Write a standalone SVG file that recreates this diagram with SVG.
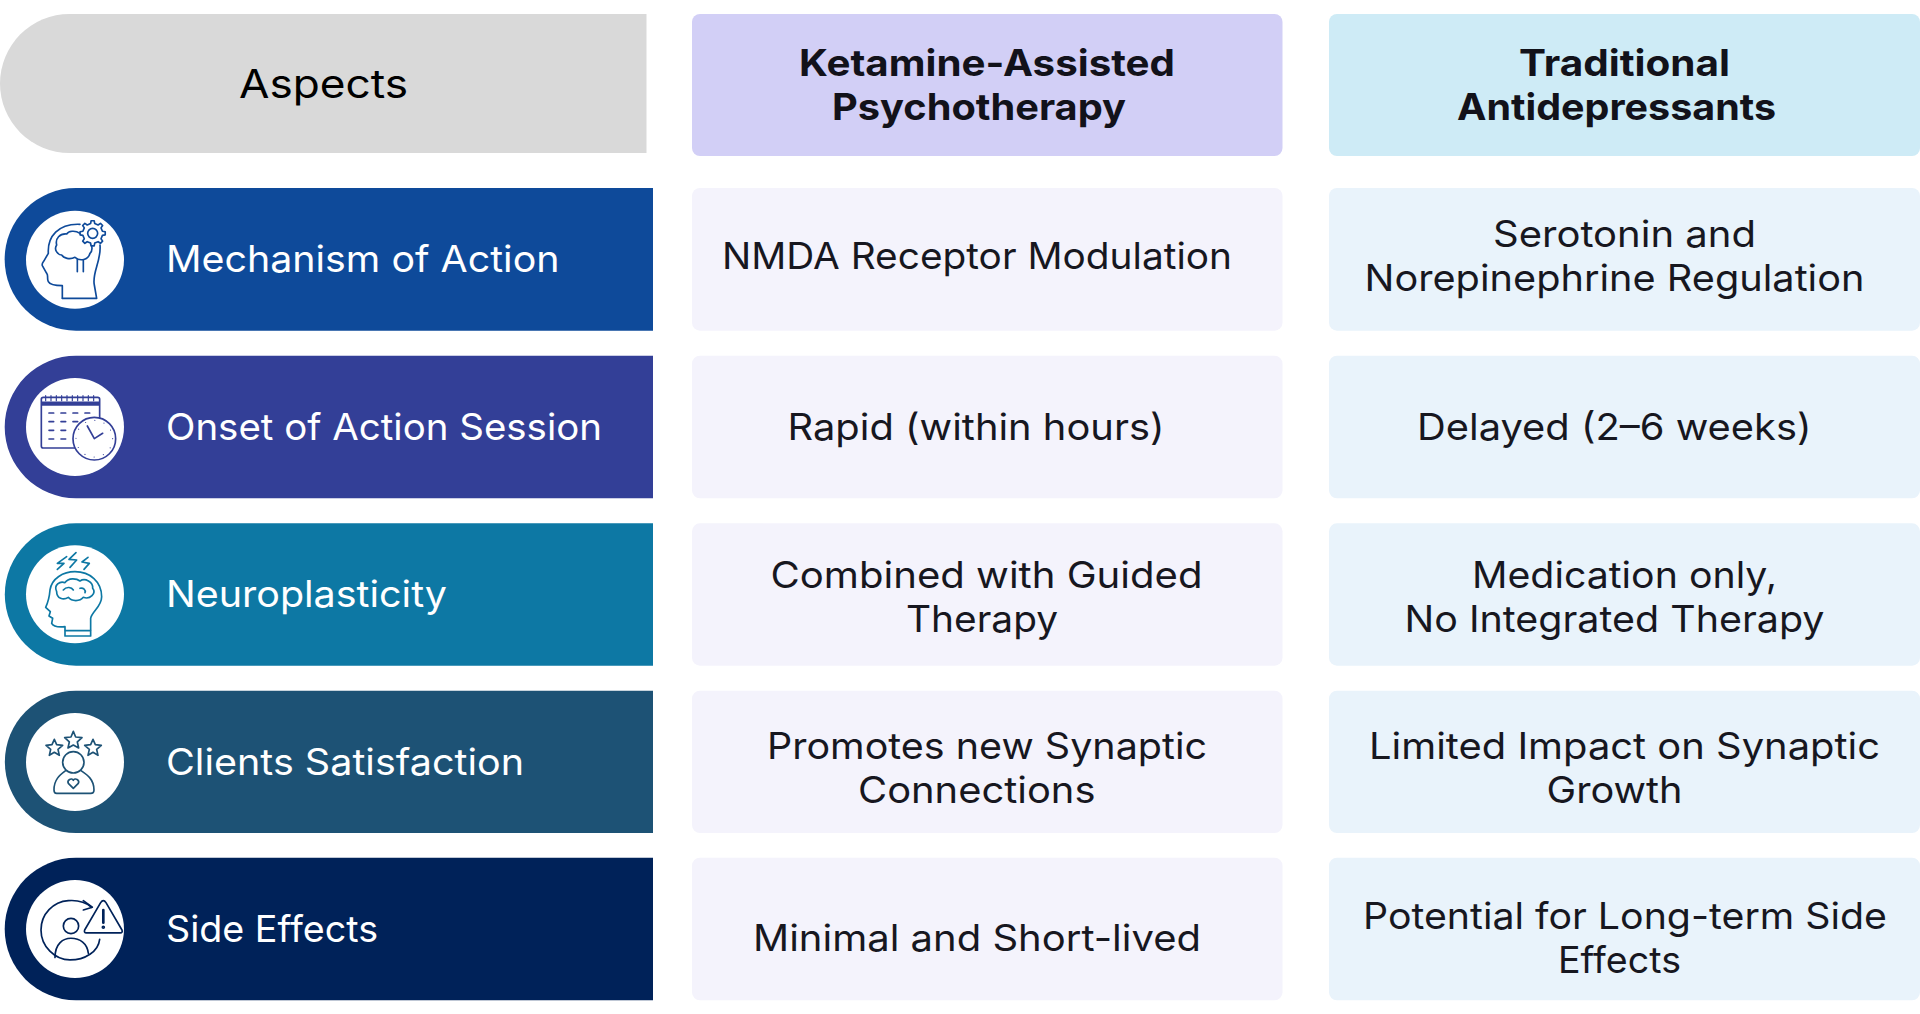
<svg xmlns="http://www.w3.org/2000/svg" width="1920" height="1014" viewBox="0 0 1920 1014">
<style>
text{font-family:"Inter","Noto Sans","Liberation Sans",sans-serif;font-size:37px;fill:#17171f;font-weight:400}
.asp{fill:#000;font-size:39px}
.lbl{fill:#fff}
.hd{font-weight:700;fill:#12121a}
.k{fill:#f4f3fc}.t{fill:#e9f3fb}
.disc{fill:#fff}
.ic{fill:none;stroke-width:5;stroke-linecap:round;stroke-linejoin:round}
.w{fill:#fff}
</style>
<rect width="1920" height="1014" fill="#fff"/>
<g id="head-aspects"><path d="M646.500 14V153H69.500A69.500 69.500 0 0 1 69.500 14Z" fill="#d9d9d9"/><text class="asp" x="239" y="98" textLength="169" lengthAdjust="spacingAndGlyphs">Aspects</text></g>
<g id="head-ketamine"><rect x="692" y="14" width="590.500" height="142" rx="8" fill="#d2cff6"/><text class="hd" x="799" y="76" textLength="376" lengthAdjust="spacingAndGlyphs">Ketamine-Assisted</text><text class="hd" x="832" y="120" textLength="294" lengthAdjust="spacingAndGlyphs">Psychotherapy</text></g>
<g id="head-traditional"><rect x="1329" y="14" width="591" height="142" rx="8" fill="#ceebf6"/><text class="hd" x="1519" y="76" textLength="211" lengthAdjust="spacingAndGlyphs">Traditional</text><text class="hd" x="1457" y="120" textLength="319" lengthAdjust="spacingAndGlyphs">Antidepressants</text></g>

<g id="row-mechanism">
<path d="M653 188V330.700H76A71.350 71.350 0 0 1 76 188Z" fill="#0e4a9a"/>
<circle class="disc" cx="75" cy="259.700" r="49"/>
<g transform="translate(0 170) scale(.3333)" class="ic" stroke="#0e4a9a">
<path d="M187 385V347C170 347 150 345 145 335C140 325 146 318 140 310L127 287C125 282 128 278 131 274L145 250C142 200 175 160 240 163"/><path d="M300 225C305 270 275 310 283 345L290 385H187"/>
<path d="M240 190C225 180 205 183 200 192C180 190 165 205 170 225C160 240 175 255 185 255C190 265 210 270 225 262C240 275 265 270 270 250C280 240 275 225 272 222"/>
<path d="M232 268V305M250 270V305"/>
<polygon class="w" transform="translate(278 190)" points="29.300,-6.200 37.700,-4.600 37.700,4.600 29.300,6.200 25.100,16.300 29.900,23.400 23.400,29.900 16.300,25.100 6.200,29.300 4.600,37.700 -4.600,37.700 -6.200,29.300 -16.300,25.100 -23.400,29.900 -29.900,23.400 -25.100,16.300 -29.300,6.200 -37.700,4.600 -37.700,-4.600 -29.300,-6.200 -25.100,-16.300 -29.900,-23.400 -23.400,-29.900 -16.300,-25.100 -6.200,-29.300 -4.600,-37.700 4.600,-37.700 6.200,-29.300 16.300,-25.100 23.400,-29.900 29.900,-23.400 25.100,-16.300"/>
<circle cx="278" cy="190" r="15"/>
</g>
<text class="lbl" x="166" y="271.500" textLength="393.500" lengthAdjust="spacingAndGlyphs">Mechanism of Action</text>
</g>

<g id="row-onset">
<path d="M653 355.700V498.300H76A71.300 71.300 0 0 1 76 355.700Z" fill="#333f97"/>
<circle class="disc" cx="75" cy="427" r="49"/>
<g transform="translate(0 170) scale(.3333)" class="ic" stroke="#333f97">
<rect x="124" y="682" width="175" height="152" rx="6"/>
<path d="M124 701H299" stroke-width="13" stroke-linecap="butt"/>
<path d="M137 677V692M153 677V692M169 677V692M185 677V692M201 677V692M217 677V692M233 677V692M249 677V692M265 677V692M281 677V692" stroke-width="3.500"/>
<path d="M147 729H161M183 729H197M219 729H233M255 729H269M147 755H161M183 755H197M219 755H233M147 781H161M183 781H197M147 807H161M183 807H197"/>
<circle cx="283" cy="806" r="64" class="w"/>
<path d="M283 806L262 768M283 806L308 790"/>
<circle cx="283" cy="806" r="55" stroke-width="3.500" stroke-dasharray="0 28.800"/>
</g>
<text class="lbl" x="166" y="440" textLength="436" lengthAdjust="spacingAndGlyphs">Onset of Action Session</text>
</g>

<g id="row-neuroplasticity">
<path d="M653 523.300V665.700H76A70 70 0 0 1 76 523.300Z" fill="#0d78a4"/>
<circle class="disc" cx="75" cy="594.300" r="49"/>
<g transform="translate(0 510) scale(.3333)" class="ic" stroke="#0d78a4">
<path d="M200 140L172 160L192 160L172 178M228 128L207 148L230 150L210 172M264 142L246 156L268 160L252 178"/>
<path d="M195 360V350C175 352 160 350 155 340L158 325L147 318L151 305L137 292C145 275 148 265 150 240C155 205 190 185 225 185C270 185 305 215 305 260C305 290 275 305 272 325V360"/>
<path d="M195 362H272V378H195Z"/>
<path d="M170 245C160 225 180 212 195 218C205 202 230 205 240 213C255 203 280 215 278 235C290 250 270 270 250 262C240 275 215 275 205 262C190 272 170 265 170 245Z"/>
<path d="M190 240C200 228 215 232 220 240M240 235C250 232 258 240 255 248"/>
</g>
<text class="lbl" x="166" y="607" textLength="281" lengthAdjust="spacingAndGlyphs">Neuroplasticity</text>
</g>

<g id="row-clients">
<path d="M653 690.700V833H76A70 70 0 0 1 76 690.700Z" fill="#1d5275"/>
<circle class="disc" cx="75" cy="762" r="49"/>
<g transform="translate(0 510) scale(.3333)" class="ic" stroke="#1d5275">
<path d="M220 664L227 681L246 683L232 696L236 714L220 705L204 714L208 696L194 683L213 681Z"/>
<path d="M163 688L170 704L188 706L174 718L178 736L163 727L148 736L152 718L138 706L156 704Z"/>
<path d="M279 688L286 704L304 706L290 718L294 736L279 727L264 736L268 718L254 706L272 704Z"/>
<circle cx="220" cy="757" r="32"/>
<path d="M197 782C180 795 162 808 162 840C162 846 165 850 170 850H272C278 850 282 846 282 840C282 808 262 795 243 782"/>
<path d="M220 835L205 820C200 810 215 802 220 811C225 802 240 810 235 820Z"/>
</g>
<text class="lbl" x="166" y="775" textLength="358" lengthAdjust="spacingAndGlyphs">Clients Satisfaction</text>
</g>

<g id="row-side-effects">
<path d="M653 857.700V1000.300H76A70 70 0 0 1 76 857.700Z" fill="#002259"/>
<circle class="disc" cx="75" cy="929" r="49"/>
<g transform="translate(0 510) scale(.3333)" class="ic" stroke="#002259">
<path d="M275 1192C255 1175 230 1170 205 1172C160 1175 123 1212 123 1260C123 1310 165 1350 210 1350C255 1350 295 1325 299 1288"/>
<path d="M250 1172L277 1192L250 1200"/>
<circle cx="213" cy="1248" r="23"/>
<path d="M165 1343C165 1300 190 1285 213 1285C240 1285 262 1300 265 1330"/>
<path d="M310 1172C313 1172 316 1175 318 1178L366 1260C368 1265 366 1269 361 1269H259C254 1269 252 1265 254 1260L302 1178C304 1175 307 1172 310 1172Z" class="w"/>
<path d="M310 1200V1238" stroke-width="8"/><circle cx="310" cy="1252" r="3" stroke-width="5"/>
</g>
<text class="lbl" x="166" y="941.500" textLength="212" lengthAdjust="spacingAndGlyphs">Side Effects</text>
</g>

<g id="cell-k1"><rect class="k" x="692" y="188" width="590.500" height="142.700" rx="8"/><text x="722" y="268.700" textLength="510" lengthAdjust="spacingAndGlyphs">NMDA Receptor Modulation</text></g>
<g id="cell-k2"><rect class="k" x="692" y="355.700" width="590.500" height="142.600" rx="8"/><text x="787.500" y="439.500" textLength="377" lengthAdjust="spacingAndGlyphs">Rapid (within hours)</text></g>
<g id="cell-k3"><rect class="k" x="692" y="523.300" width="590.500" height="142.400" rx="8"/><text x="770.500" y="587.700" textLength="432" lengthAdjust="spacingAndGlyphs">Combined with Guided</text><text x="906" y="632" textLength="152" lengthAdjust="spacingAndGlyphs">Therapy</text></g>
<g id="cell-k4"><rect class="k" x="692" y="690.700" width="590.500" height="142.300" rx="8"/><text x="767" y="759" textLength="440" lengthAdjust="spacingAndGlyphs">Promotes new Synaptic</text><text x="858" y="803" textLength="237.500" lengthAdjust="spacingAndGlyphs">Connections</text></g>
<g id="cell-k5"><rect class="k" x="692" y="857.700" width="590.500" height="142.600" rx="8"/><text x="753" y="950.700" textLength="448" lengthAdjust="spacingAndGlyphs">Minimal and Short-lived</text></g>

<g id="cell-t1"><rect class="t" x="1329" y="188" width="591" height="142.700" rx="8"/><text x="1493" y="246.700" textLength="263" lengthAdjust="spacingAndGlyphs">Serotonin and</text><text x="1364.500" y="291" textLength="500" lengthAdjust="spacingAndGlyphs">Norepinephrine Regulation</text></g>
<g id="cell-t2"><rect class="t" x="1329" y="355.700" width="591" height="142.600" rx="8"/><text x="1417" y="439.500" textLength="394.500" lengthAdjust="spacingAndGlyphs">Delayed (2–6 weeks)</text></g>
<g id="cell-t3"><rect class="t" x="1329" y="523.300" width="591" height="142.400" rx="8"/><text x="1472" y="587.700" textLength="305" lengthAdjust="spacingAndGlyphs">Medication only,</text><text x="1404.500" y="632" textLength="420" lengthAdjust="spacingAndGlyphs">No Integrated Therapy</text></g>
<g id="cell-t4"><rect class="t" x="1329" y="690.700" width="591" height="142.300" rx="8"/><text x="1369" y="759" textLength="511" lengthAdjust="spacingAndGlyphs">Limited Impact on Synaptic</text><text x="1546.500" y="803" textLength="136" lengthAdjust="spacingAndGlyphs">Growth</text></g>
<g id="cell-t5"><rect class="t" x="1329" y="857.700" width="591" height="142.600" rx="8"/><text x="1363" y="929.200" textLength="524" lengthAdjust="spacingAndGlyphs">Potential for Long-term Side</text><text x="1558" y="973" textLength="123" lengthAdjust="spacingAndGlyphs">Effects</text></g>
</svg>
